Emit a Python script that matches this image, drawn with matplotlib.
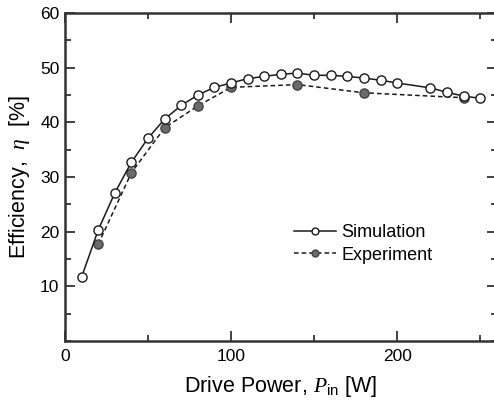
import matplotlib
matplotlib.use("Agg")
import matplotlib.pyplot as plt
from matplotlib.ticker import MultipleLocator

sim_x = [10, 20, 30, 40, 50, 60, 70, 80, 90, 100, 110, 120, 130, 140, 150,
         160, 170, 180, 190, 200, 220, 230, 240, 250]
sim_y = [11.7, 20.3, 27.1, 32.7, 37.1, 40.6, 43.1, 45.0, 46.4, 47.2, 48.0, 48.4,
         48.8, 49.0, 48.6, 48.6, 48.4, 48.1, 47.7, 47.2, 46.3, 45.5, 44.8, 44.4]
exp_x = [20, 40, 60, 80, 100, 140, 180, 240]
exp_y = [17.7, 30.8, 39.0, 43.0, 46.4, 46.9, 45.4, 44.5]

plt.rcParams['font.family'] = ['Liberation Sans', 'DejaVu Sans']
plt.rcParams['mathtext.fontset'] = 'custom'
plt.rcParams['mathtext.it'] = 'Liberation Serif:italic'
plt.rcParams['mathtext.rm'] = 'Liberation Sans'

fig = plt.figure(figsize=(4.94, 4.01), dpi=100)
ax = fig.add_axes([0.1316, 0.1496, 0.874, 0.818])

ink = '#1a1a1a'
ax.plot(sim_x, sim_y, '-', color=ink, lw=1.1, marker='o', ms=6.6,
        mfc='white', mec=ink, mew=1.0, label='Simulation', zorder=3)
ax.plot(exp_x, exp_y, '--', color=ink, lw=1.1, dashes=(3, 2), marker='o', ms=6.6,
        mfc='#6a6a6a', mec='#444444', mew=1.0, label='Experiment', zorder=2)

ax.set_xlim(0, 260)
ax.set_ylim(0, 60)
ax.xaxis.set_major_locator(MultipleLocator(100))
ax.xaxis.set_minor_locator(MultipleLocator(50))
ax.yaxis.set_major_locator(MultipleLocator(10))
ax.yaxis.set_minor_locator(MultipleLocator(5))
ax.set_yticks([10, 20, 30, 40, 50, 60])

for s in ax.spines.values():
    s.set_linewidth(1.8)
    s.set_color('#333333')

ax.tick_params(which='both', direction='in', top=True, right=True,
               color='#333333', width=1.3)
ax.tick_params(which='major', length=7, labelsize=12.5, pad=4)
ax.tick_params(which='minor', length=4)
ax.set_xticks([0, 100, 200])
ax.set_xticklabels(['0', '100', '200'])
ax.tick_params(axis='x', which='major', pad=6)

ax.set_xlabel(r'Drive Power, $P_{\rm in}$ [W]', fontsize=15.5, labelpad=7)
ax.set_ylabel(r'Efficiency,  $\eta$  [%]', fontsize=15.5, labelpad=6)

leg = ax.legend(loc='center left', bbox_to_anchor=(0.51, 0.296), frameon=False,
                fontsize=13, handlelength=2.3, handletextpad=0.3,
                labelspacing=0.3, borderpad=0, markerscale=0.75)

fig.savefig('out.png', dpi=100)
